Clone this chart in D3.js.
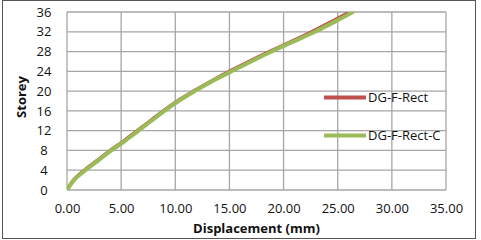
<!DOCTYPE html>
<html>
<head>
<meta charset="utf-8">
<script src="https://cdn.jsdelivr.net/npm/d3@7"></script>
<style>
  body { margin: 0; background: #fff; }
  text { font-family: "Open Sans", Lato, sans-serif; fill: #111; }
</style>
</head>
<body>
<div id="chart"></div>
<script>
// Data: storey levels and displacement (mm)
const storeys = [0, 2, 4, 6, 8, 10, 12, 14, 16, 18, 20, 22, 24, 26, 28, 30, 32, 34, 36];
const dispRect = [0, 0.6, 1.6, 2.8, 4.0, 5.3, 6.5, 7.7, 8.9, 10.2, 11.7, 13.3, 15.0, 16.8, 18.7, 20.7, 22.6, 24.4, 26.1];
const dispRectC = [0, 0.65, 1.7, 2.9, 4.1, 5.4, 6.6, 7.8, 9.0, 10.3, 11.8, 13.4, 15.2, 17.0, 18.9, 20.9, 22.9, 24.7, 26.4];
const xTicks = [0, 5, 10, 15, 20, 25, 30, 35];
const yTicks = [0, 4, 8, 12, 16, 20, 24, 28, 32, 36];
const seriesNames = ["DG-F-Rect", "DG-F-Rect-C"];
const seriesColors = ["#c0504d", "#9bbb59"];

const W = 481, H = 240;
const margin = {top: 12, right: 35, bottom: 50, left: 67},
    width = 446 - margin.left,
    height = 190 - margin.top;

const root = d3.select("#chart")
  .append("svg")
    .attr("width", W)
    .attr("height", H);

// outer chart frame
root.append("rect")
    .attr("x", 2.5).attr("y", 0.5)
    .attr("width", 473).attr("height", 238)
    .attr("fill", "none")
    .attr("stroke", "#555")
    .attr("stroke-width", 1);

const svg = root.append("g")
    .attr("transform", `translate(${margin.left},${margin.top})`);

const x = d3.scaleLinear().domain([0, 35]).range([0, width]);
const y = d3.scaleLinear().domain([0, 36]).range([height, 0]);

// grid
svg.append("g")
  .selectAll("line.v")
  .data(xTicks)
  .join("line")
    .attr("x1", d => x(d)).attr("x2", d => x(d))
    .attr("y1", 0).attr("y2", height)
    .attr("stroke", "#a6a6a6").attr("stroke-width", 1.3);

svg.append("g")
  .selectAll("line.h")
  .data(yTicks)
  .join("line")
    .attr("x1", 0).attr("x2", width)
    .attr("y1", d => y(d)).attr("y2", d => y(d))
    .attr("stroke", "#a6a6a6").attr("stroke-width", 1.3);

// X axis labels
const xAxis = svg.append("g")
    .attr("transform", `translate(0,${height})`)
    .call(d3.axisBottom(x).tickValues(xTicks).tickSize(0).tickPadding(14).tickFormat(d3.format(".2f")));
xAxis.select(".domain").remove();
xAxis.selectAll("text").style("font-size", "13px").attr("fill", "#111");

// Y axis labels
const yAxis = svg.append("g")
    .call(d3.axisLeft(y).tickValues(yTicks).tickSize(0).tickPadding(0));
yAxis.select(".domain").remove();
yAxis.selectAll("text")
    .style("font-size", "13px")
    .attr("fill", "#111")
    .attr("text-anchor", "middle")
    .attr("x", -23);

// axis titles
svg.append("text")
    .attr("text-anchor", "middle")
    .attr("x", width / 2)
    .attr("y", height + 43)
    .style("font-size", "13px")
    .style("font-weight", "bold")
    .text("Displacement (mm)");

svg.append("text")
    .attr("text-anchor", "middle")
    .attr("transform", "rotate(-90)")
    .attr("x", -(height / 2) + 4)
    .attr("y", -41)
    .style("font-size", "13px")
    .style("font-weight", "bold")
    .text("Storey");

// lines
svg.append("clipPath").attr("id", "clip")
  .append("rect").attr("width", width).attr("height", height);

const line = d3.line()
    .x(d => x(d[0]))
    .y(d => y(d[1]))
    .curve(d3.curveCatmullRom);

const series = [dispRect, dispRectC];
series.forEach((vals, i) => {
  svg.append("path")
      .datum(vals.map((v, k) => [v, storeys[k]]))
      .attr("clip-path", "url(#clip)")
      .attr("fill", "none")
      .attr("stroke", seriesColors[i])
      .attr("stroke-width", i === 0 ? 3.5 : 4)
      .attr("stroke-linecap", "round")
      .attr("d", line);
});

// legend
const legend = root.append("g");
const legendY = [97.5, 135.5];
seriesNames.forEach((name, i) => {
  legend.append("line")
      .attr("x1", 324).attr("x2", 366)
      .attr("y1", legendY[i]).attr("y2", legendY[i])
      .attr("stroke", seriesColors[i])
      .attr("stroke-width", 4);
  legend.append("text")
      .attr("x", 368)
      .attr("y", legendY[i] + 4.5)
      .style("font-size", "13px")
      .text(name);
});
</script>
</body>
</html>
